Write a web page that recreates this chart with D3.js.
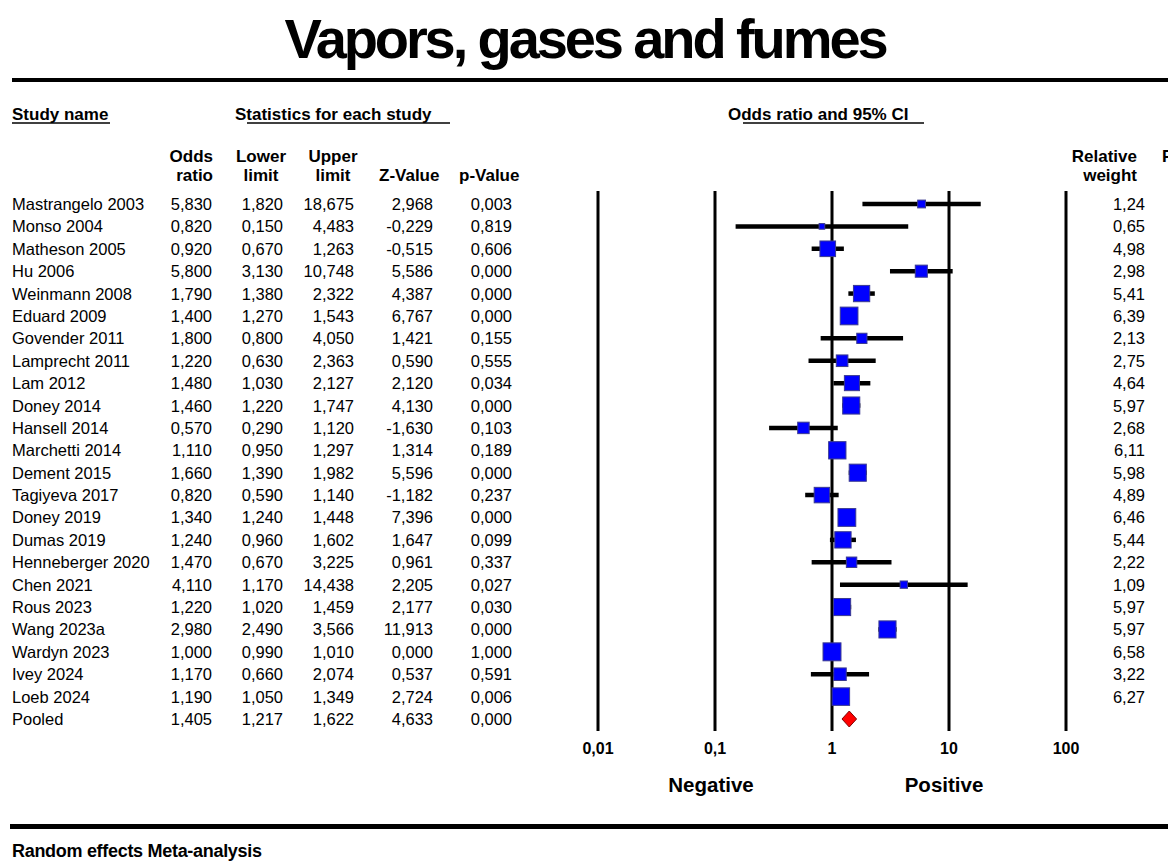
<!DOCTYPE html>
<html>
<head>
<meta charset="utf-8">
<script src="https://cdn.jsdelivr.net/npm/d3@7"></script>
<style>
  body { margin: 0; background: #fff; }
  text { font-family: "Liberation Sans", Arial, sans-serif; fill: #000; }
</style>
</head>
<body>
<div id="chart"></div>
<script>
// values (CMA output, random effects)
var studies = ["Mastrangelo 2003", "Monso 2004", "Matheson 2005", "Hu 2006", "Weinmann 2008",
  "Eduard 2009", "Govender 2011", "Lamprecht 2011", "Lam 2012", "Doney 2014", "Hansell 2014",
  "Marchetti 2014", "Dement 2015", "Tagiyeva 2017", "Doney 2019", "Dumas 2019",
  "Henneberger 2020", "Chen 2021", "Rous 2023", "Wang 2023a", "Wardyn 2023", "Ivey 2024",
  "Loeb 2024", "Pooled"];
var oddsRatio = [5.830, 0.820, 0.920, 5.800, 1.790, 1.400, 1.800, 1.220, 1.480, 1.460, 0.570,
  1.110, 1.660, 0.820, 1.340, 1.240, 1.470, 4.110, 1.220, 2.980, 1.000, 1.170, 1.190, 1.405];
var lowerLimit = [1.820, 0.150, 0.670, 3.130, 1.380, 1.270, 0.800, 0.630, 1.030, 1.220, 0.290,
  0.950, 1.390, 0.590, 1.240, 0.960, 0.670, 1.170, 1.020, 2.490, 0.990, 0.660, 1.050, 1.217];
var upperLimit = [18.675, 4.483, 1.263, 10.748, 2.322, 1.543, 4.050, 2.363, 2.127, 1.747, 1.120,
  1.297, 1.982, 1.140, 1.448, 1.602, 3.225, 14.438, 1.459, 3.566, 1.010, 2.074, 1.349, 1.622];
var zValue = [2.968, -0.229, -0.515, 5.586, 4.387, 6.767, 1.421, 0.590, 2.120, 4.130, -1.630,
  1.314, 5.596, -1.182, 7.396, 1.647, 0.961, 2.205, 2.177, 11.913, 0.000, 0.537, 2.724, 4.633];
var pValue = [0.003, 0.819, 0.606, 0.000, 0.000, 0.000, 0.155, 0.555, 0.034, 0.000, 0.103,
  0.189, 0.000, 0.237, 0.000, 0.099, 0.337, 0.027, 0.030, 0.000, 1.000, 0.591, 0.006, 0.000];
var relWeight = [1.24, 0.65, 4.98, 2.98, 5.41, 6.39, 2.13, 2.75, 4.64, 5.97, 2.68, 6.11, 5.98,
  4.89, 6.46, 5.44, 2.22, 1.09, 5.97, 5.97, 6.58, 3.22, 6.27];
var tickValues = [0.01, 0.1, 1, 10, 100];
var tickLabels = ["0,01", "0,1", "1", "10", "100"];

var width = 1168, height = 861;

var locale = d3.formatLocale({decimal: ",", thousands: ".", grouping: [3], currency: ["", ""], minus: "-"});
var f3 = locale.format(".3f"), f2 = locale.format(".2f");

var svg = d3.select("#chart").append("svg")
    .attr("width", width)
    .attr("height", height);

var x = d3.scaleLog().domain([0.01, 100]).range([598, 1066]);
var y = d3.scalePoint().domain(d3.range(studies.length)).range([204, 719]);
var boxSize = d3.scaleSqrt().domain([0, 1]).range([0, 7]);

// title + rules
svg.append("text")
    .attr("x", 585).attr("y", 58)
    .attr("text-anchor", "middle")
    .style("font-size", "56px").style("font-weight", "bold")
    .style("letter-spacing", "-3.1px")
    .text("Vapors, gases and fumes");

svg.append("rect").attr("x", 12).attr("y", 78).attr("width", width - 12).attr("height", 4);
svg.append("rect").attr("x", 10).attr("y", 824).attr("width", width - 10).attr("height", 5);

svg.append("text")
    .attr("x", 12).attr("y", 857)
    .style("font-size", "18px").style("font-weight", "bold")
    .style("letter-spacing", "-0.3px")
    .text("Random effects Meta-analysis");

// section headers (underlined)
function header(txt, xx, ux0, ux1) {
  svg.append("text")
      .attr("x", xx).attr("y", 120)
      .style("font-size", "17px").style("font-weight", "bold")
      .text(txt);
  svg.append("line")
      .attr("x1", ux0).attr("x2", ux1)
      .attr("y1", 123).attr("y2", 123)
      .attr("stroke", "#000").attr("stroke-width", 1.5);
}
header("Study name", 12, 12, 110);
header("Statistics for each study", 235, 247, 450);
header("Odds ratio and 95% CI", 728, 743, 924);

// column headers
var colHeads = [
  {l1: "Odds", l2: "ratio", x: 213, anchor: "end"},
  {l1: "Lower", l2: "limit", x: 261, anchor: "middle"},
  {l1: "Upper", l2: "limit", x: 333, anchor: "middle"},
  {l1: "", l2: "Z-Value", x: 379, anchor: "start"},
  {l1: "", l2: "p-Value", x: 459, anchor: "start"},
  {l1: "Relative", l2: "weight", x: 1137, anchor: "end"},
  {l1: "Residual", l2: "", x: 1162, anchor: "start"}
];
colHeads.forEach(function(h) {
  var t = svg.append("text")
      .attr("x", h.x)
      .attr("text-anchor", h.anchor)
      .style("font-size", "17px").style("font-weight", "bold");
  t.append("tspan").attr("x", h.x).attr("y", 162).text(h.l1);
  t.append("tspan").attr("x", h.x).attr("y", 181).text(h.l2);
});

// table body
var cols = [
  {vals: oddsRatio, x: 212, fmt: f3},
  {vals: lowerLimit, x: 283, fmt: f3},
  {vals: upperLimit, x: 354, fmt: f3},
  {vals: zValue, x: 433, fmt: f3},
  {vals: pValue, x: 512, fmt: f3}
];

var rows = svg.append("g").attr("class", "rows")
  .selectAll("g")
  .data(studies)
  .enter().append("g")
  .attr("transform", function(d, i) { return "translate(0," + (y(i) + 6) + ")"; });

rows.append("text")
    .attr("x", 12)
    .style("font-size", "16.5px")
    .text(function(d) { return d; });

cols.forEach(function(c) {
  rows.append("text")
      .attr("x", c.x)
      .attr("text-anchor", "end")
      .style("font-size", "16.5px")
      .text(function(d, i) { return c.fmt(c.vals[i]); });
});

rows.filter(function(d, i) { return i < relWeight.length; })
  .append("text")
    .attr("x", 1145)
    .attr("text-anchor", "end")
    .style("font-size", "16.5px")
    .text(function(d, i) { return f2(relWeight[i]); });

// forest plot: reference lines
svg.append("g").selectAll("line")
  .data(tickValues)
  .enter().append("line")
    .attr("x1", function(d) { return x(d); })
    .attr("x2", function(d) { return x(d); })
    .attr("y1", 191).attr("y2", 731)
    .attr("stroke", "#000").attr("stroke-width", 3);

svg.append("g").selectAll("text")
  .data(tickValues)
  .enter().append("text")
    .attr("x", function(d) { return x(d); })
    .attr("y", 754)
    .attr("text-anchor", "middle")
    .style("font-size", "16px").style("font-weight", "bold")
    .text(function(d, i) { return tickLabels[i]; });

svg.append("text")
    .attr("x", 711).attr("y", 792)
    .attr("text-anchor", "middle")
    .style("font-size", "20.5px").style("font-weight", "bold")
    .text("Negative");
svg.append("text")
    .attr("x", 944).attr("y", 792)
    .attr("text-anchor", "middle")
    .style("font-size", "20.5px").style("font-weight", "bold")
    .text("Positive");

// CI lines and weight boxes
var nStudy = relWeight.length;
var marks = svg.append("g");

marks.selectAll("line.ci")
  .data(d3.range(nStudy))
  .enter().append("line")
    .attr("class", "ci")
    .attr("x1", function(i) { return x(lowerLimit[i]); })
    .attr("x2", function(i) { return x(upperLimit[i]); })
    .attr("y1", function(i) { return y(i); })
    .attr("y2", function(i) { return y(i); })
    .attr("stroke", "#000").attr("stroke-width", 4.5);

marks.selectAll("rect.box")
  .data(d3.range(nStudy))
  .enter().append("rect")
    .attr("class", "box")
    .attr("x", function(i) { return x(oddsRatio[i]) - boxSize(relWeight[i]) / 2; })
    .attr("y", function(i) { return y(i) - boxSize(relWeight[i]) / 2; })
    .attr("width", function(i) { return boxSize(relWeight[i]); })
    .attr("height", function(i) { return boxSize(relWeight[i]); })
    .attr("fill", "#0000ff")
    .attr("stroke", "#3a3a90").attr("stroke-width", 1);

// pooled diamond
var p = studies.length - 1, yp = y(p);
marks.append("path")
    .attr("d", "M" + x(lowerLimit[p]) + "," + yp +
               "L" + x(oddsRatio[p]) + "," + (yp - 8) +
               "L" + x(upperLimit[p]) + "," + yp +
               "L" + x(oddsRatio[p]) + "," + (yp + 8) + "Z")
    .attr("fill", "#ff0000")
    .attr("stroke", "#800000").attr("stroke-width", 1);
</script>
</body>
</html>
